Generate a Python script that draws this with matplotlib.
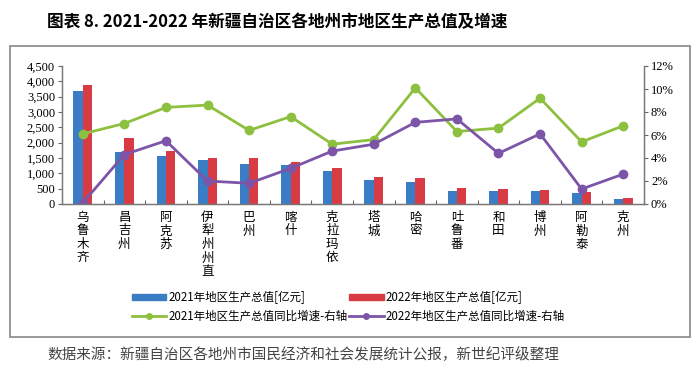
import matplotlib.pyplot as plt
import numpy as np
from matplotlib.patches import Rectangle
from matplotlib.lines import Line2D
from matplotlib.patches import Patch

plt.rcParams['font.family'] = ['Noto Sans CJK SC', 'DejaVu Sans']

regions = ['乌鲁木齐', '昌吉州', '阿克苏', '伊犁州州直', '巴州', '喀什', '克拉玛依',
           '塔城', '哈密', '吐鲁番', '和田', '博州', '阿勒泰', '克州']
gdp_2021 = [3691, 1691, 1551, 1443, 1292, 1282, 1066, 797, 711, 409, 431, 431, 355, 162]
gdp_2022 = [3893, 2164, 1712, 1497, 1497, 1357, 1163, 872, 851, 506, 485, 463, 388, 194]
growth_2021 = [6.1, 7.0, 8.4, 8.6, 6.4, 7.6, 5.2, 5.6, 10.1, 6.3, 6.6, 9.2, 5.4, 6.8]
growth_2022 = [0.1, 4.3, 5.5, 2.0, 1.8, 3.1, 4.6, 5.2, 7.1, 7.4, 4.4, 6.1, 1.3, 2.6]

blue = '#3B7DC4'
red = '#D83B44'
green = '#8DC03F'
purple = '#7D55A8'
serif = 'Liberation Serif'

fig = plt.figure(figsize=(7.0, 3.72), dpi=100)
ax = fig.add_axes([62 / 700, 1 - 204 / 372, (644 - 62) / 700, (204 - 66) / 372])
ax2 = ax.twinx()

x = np.arange(len(regions))
w = 0.225
ax.bar(x - w / 2, gdp_2021, width=w, color=blue, zorder=2)
ax.bar(x + w / 2, gdp_2022, width=w, color=red, zorder=2)

ax2.plot(x, growth_2021, color=green, lw=2.0, marker='o', ms=6)
ax2.plot(x, growth_2022, color=purple, lw=2.0, marker='o', ms=6)

ax.set_xlim(-0.5, len(regions) - 0.5)
ax.set_ylim(0, 4500)
ax.set_yticks(np.arange(0, 4501, 500))
ax.set_yticklabels([f'{v:,}' for v in range(0, 4501, 500)], fontfamily=serif, fontsize=9)
ax2.set_ylim(0, 12)
ax2.set_yticks(np.arange(0, 13, 2))
ax2.set_yticklabels([f'{v}%' for v in range(0, 13, 2)], fontfamily=serif, fontsize=9)

ax.set_xticks(np.arange(-0.5, len(regions), 1))
ax.set_xticklabels([])
ax.tick_params(axis='x', direction='in', length=3, color='#666666')
ax.set_xticks(x, minor=True)
ax.set_xticklabels(['\n'.join(r) for r in regions], minor=True, fontsize=9,
                   va='top', linespacing=1.05)
ax.tick_params(axis='x', which='minor', length=0, pad=5)
ax.tick_params(axis='y', length=3, color='#666666', pad=2)
ax2.tick_params(axis='y', length=3, color='#666666', pad=2)

for a in (ax, ax2):
    a.spines['top'].set_visible(False)
    for s in ('left', 'right', 'bottom'):
        a.spines[s].set_color('#777777')
        a.spines[s].set_linewidth(0.9)

handles = [Patch(color=blue), Patch(color=red),
           Line2D([], [], color=green, lw=2, marker='o', ms=4),
           Line2D([], [], color=purple, lw=2, marker='o', ms=4)]
labels = ['2021年地区生产总值[亿元]', '2022年地区生产总值[亿元]',
          '2021年地区生产总值同比增速-右轴', '2022年地区生产总值同比增速-右轴']
# legend fills row-wise with ncol=2 when ordered column-wise
order = [0, 2, 1, 3]
fig.legend([handles[i] for i in order], [labels[i] for i in order], ncol=2,
           loc='center left', bbox_to_anchor=(126 / 700, 1 - 307 / 372),
           frameon=False, fontsize=8.3, handlelength=3.0, handleheight=0.5,
           handletextpad=0.2, columnspacing=0.1, labelspacing=0.5,
           borderpad=0)

fig.patches.append(Rectangle((10 / 700, 1 - 337 / 372), 680 / 700, 291 / 372,
                             transform=fig.transFigure, fill=False,
                             edgecolor='#888888', lw=1.2))

fig.text(47 / 700, 1 - 22 / 372, '图表 8. 2021-2022 年新疆自治区各地州市地区生产总值及增速',
         fontsize=12, fontweight='bold', va='center', ha='left')
fig.text(47 / 700, 1 - 355 / 372, '数据来源：新疆自治区各地州市国民经济和社会发展统计公报，新世纪评级整理',
         fontsize=10.5, color='#444444', va='center', ha='left')

fig.savefig('out.png', dpi=100)
